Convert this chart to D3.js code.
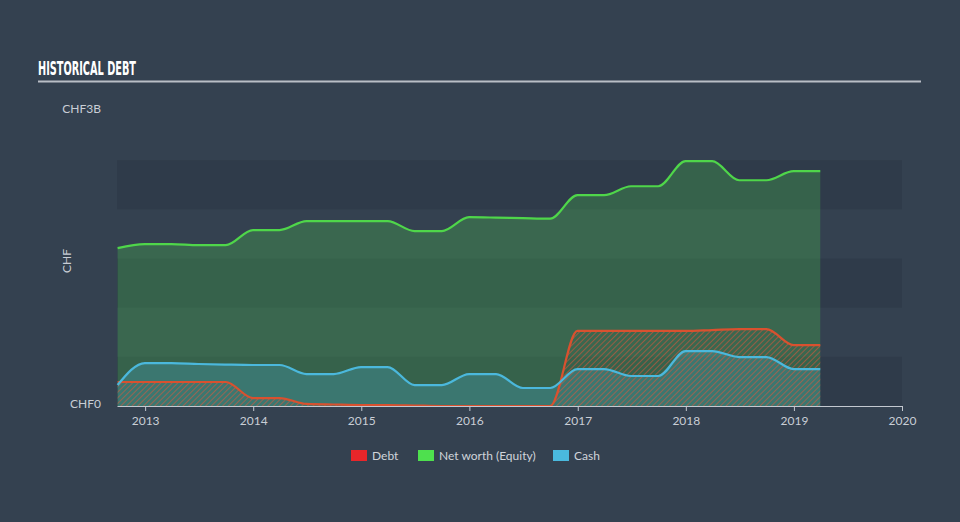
<!DOCTYPE html>
<html><head><meta charset="utf-8">
<script src="https://cdn.jsdelivr.net/npm/d3@7"></script>
<style>
html,body{margin:0;padding:0;background:#344150;}
svg{display:block;}
</style></head>
<body>
<svg id="chart" width="960" height="522"></svg>
<script>
// Quarter-end dates (Q3 2012 .. Q1 2019)
const dates = ["2012-09-30","2012-12-31","2013-03-31","2013-06-30","2013-09-30","2013-12-31","2014-03-31","2014-06-30","2014-09-30","2014-12-31","2015-03-31","2015-06-30","2015-09-30","2015-12-31","2016-03-31","2016-06-30","2016-09-30","2016-12-31","2017-03-31","2017-06-30","2017-09-30","2017-12-31","2018-03-31","2018-06-30","2018-09-30","2018-12-31","2019-03-31"];
// Values in CHF millions
const debt     = [244,244,244,244,244,81,81,21,15,10,10,5,0,0,0,0,0,763,763,763,763,763,772,782,782,620,620];
const netWorth = [1605,1647,1647,1636,1636,1789,1789,1880,1880,1880,1880,1778,1778,1920,1916,1910,1905,2144,2144,2235,2235,2490,2490,2296,2296,2388,2388];
const cash     = [213,437,437,427,421,417,417,325,325,396,396,213,213,325,325,183,183,376,376,305,305,559,559,498,498,376,376];
const yearTicks = ["2013","2014","2015","2016","2017","2018","2019","2020"];
const yTickLabels = ["CHF0","CHF3B"];
const yTickValues = [0,3000];
const legendItems = ["Debt","Net worth (Equity)","Cash"];

const parse = d3.timeParse("%Y-%m-%d");
const dts = dates.map(parse);
const svg = d3.select("#chart");

const x = d3.scaleTime().domain([parse("2012-09-28"), parse("2020-01-01")]).range([117, 902]);
const y = d3.scaleLinear().domain([0, 3000]).range([406, 111]);

svg.append("rect").attr("width",960).attr("height",522).attr("fill","#344150");

// Title
svg.append("text").attr("x",38).attr("y",75)
  .attr("font-family","'Liberation Sans Narrow','DejaVu Sans Condensed',sans-serif")
  .attr("font-weight","bold").attr("font-size",20).attr("fill","#ffffff")
  .attr("textLength",98).attr("lengthAdjust","spacingAndGlyphs")
  .text("HISTORICAL DEBT");
svg.append("line").attr("x1",38).attr("x2",921).attr("y1",81.5).attr("y2",81.5)
  .attr("stroke","#b9bec6").attr("stroke-width",2);

// Bands every 500M
const bandVals = d3.range(0, 3001, 500);
for (let i = 0; i < bandVals.length - 1; i++) {
  if (i % 2 === 0 && i < 5) {
    svg.append("rect").attr("x",117).attr("width",785)
      .attr("y",y(bandVals[i+1])).attr("height",y(bandVals[i])-y(bandVals[i+1]))
      .attr("fill","#2b3645").attr("opacity",0.55);
  }
}

// Pattern for debt hatch
const defs = svg.append("defs");
const pat = defs.append("pattern").attr("id","hatch").attr("patternUnits","userSpaceOnUse")
  .attr("width",4).attr("height",4).attr("patternTransform","rotate(45)");
pat.append("line").attr("x1",0).attr("y1",0).attr("x2",0).attr("y2",4)
  .attr("stroke","#e4563a").attr("stroke-width",2).attr("stroke-opacity",0.55);

const data = dts.map((d,i)=>({d, debt:debt[i], nw:netWorth[i], cash:cash[i]}));
const curve = d3.curveMonotoneX;

const area = key => d3.area().x(d=>x(d.d)).y0(y(0)).y1(d=>y(d[key])).curve(curve);
const line = key => d3.line().x(d=>x(d.d)).y(d=>y(d[key])).curve(curve);

svg.append("path").datum(data).attr("d",area("nw")).attr("fill","#4ee04e").attr("fill-opacity",0.24);
svg.append("path").datum(data).attr("d",area("cash")).attr("fill","#4ab9de").attr("fill-opacity",0.25);
svg.append("path").datum(data).attr("d",area("debt")).attr("fill","url(#hatch)");

svg.append("path").datum(data).attr("d",line("nw")).attr("fill","none").attr("stroke","#4fd64a").attr("stroke-width",2.2);
svg.append("path").datum(data).attr("d",line("debt")).attr("fill","none").attr("stroke","#d9512f").attr("stroke-width",2.2);
svg.append("path").datum(data).attr("d",line("cash")).attr("fill","none").attr("stroke","#4bb8dc").attr("stroke-width",2.2);

// X axis
const xAxis = d3.axisBottom(x)
  .tickValues(yearTicks.map(t=>parse(t+"-01-01")))
  .tickFormat(d3.timeFormat("%Y")).tickSize(5).tickSizeOuter(0);
const gx = svg.append("g").attr("transform","translate(0,406)").call(xAxis);
gx.select(".domain").attr("stroke","#c3c8d0").attr("stroke-width",1.2);
gx.selectAll(".tick line").attr("stroke","#c3c8d0");
gx.selectAll(".tick text").attr("fill","#c9ced6").attr("font-size",12)
  .attr("font-family","Lato, sans-serif").attr("dy","0.95em");

// Y labels
svg.selectAll(".ylab").data(yTickValues).enter().append("text")
  .attr("x",101).attr("y",(d)=> y(d) - 2)
  .attr("dy","0.32em").attr("text-anchor","end")
  .attr("fill","#c9ced6").attr("font-size",12).attr("font-family","Lato, sans-serif")
  .text((d,i)=>yTickLabels[i]);
svg.append("text").attr("transform","translate(71,261) rotate(-90)")
  .attr("text-anchor","middle").attr("fill","#c9ced6").attr("font-size",12)
  .attr("font-family","Lato, sans-serif").text("CHF");

// Legend
const legColors = ["#e8262a","#4ee04e","#4ab9de"];
const legX = [351,418,553];
legendItems.forEach((t,i)=>{
  svg.append("rect").attr("x",legX[i]).attr("y",450).attr("width",16).attr("height",11).attr("fill",legColors[i]);
  svg.append("text").attr("x",legX[i]+21).attr("y",456).attr("dy","0.35em")
    .attr("fill","#d0d4da").attr("font-size",12).attr("font-family","Lato, sans-serif").text(t);
});
</script>
</body></html>
